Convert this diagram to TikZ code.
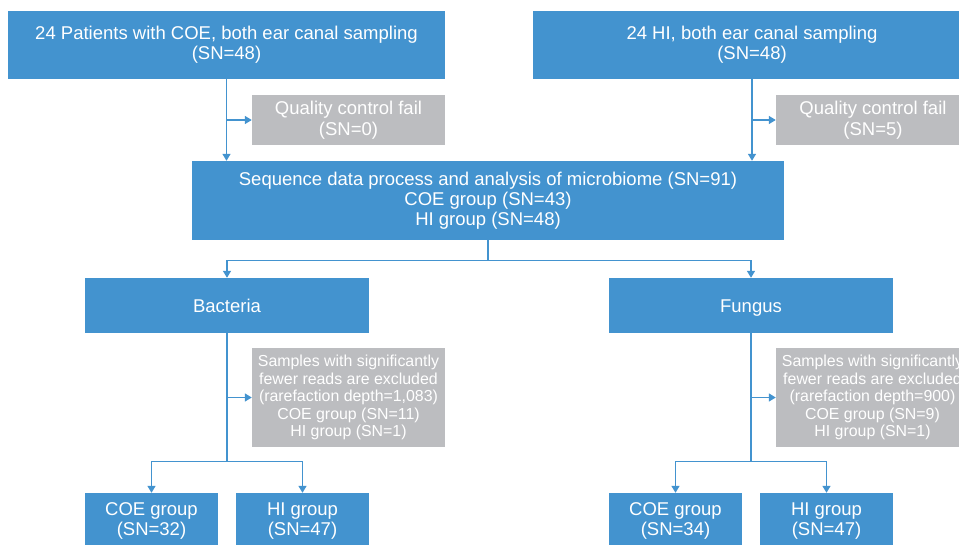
\documentclass[tikz,border=0pt]{standalone}
\usepackage{fontspec}
\setmainfont{Liberation Sans}
\usepackage{tikz}
\usetikzlibrary{arrows.meta,positioning}
\usepackage{xcolor}
\definecolor{flowblue}{HTML}{4393CF}
\definecolor{dropgrey}{HTML}{BCBDC0}
\tikzset{
  >={Triangle[length=7pt,width=8pt]},
  bluebox/.style={fill=flowblue,text=white,inner sep=0pt,align=center,
                  font=\fontsize{18.5}{20}\selectfont},
  kingdombox/.style={bluebox,minimum width=284pt,minimum height=55pt,
                     text height=14pt,text depth=0pt},
  greybox/.style={fill=dropgrey,text=white,inner sep=0pt,align=center,
                  font=\fontsize{18.5}{20.5}\selectfont},
  greysmall/.style={greybox,font=\fontsize{15.9}{17.5}\selectfont},
  arrow/.style={->,line width=1.4pt,draw=flowblue}
}

\begin{document}
\begin{tikzpicture}[x=1pt,y=-1pt,line cap=butt,line join=miter]
  \useasboundingbox (0,0) rectangle (959,544);

  % Sampling
  \node[bluebox,minimum width=437pt,minimum height=68pt] (coe) at (226.5,45)
    {24 Patients with COE, both ear canal sampling\\(SN=48)};
  \node[bluebox,minimum width=438pt,minimum height=68pt] (hi) at (752,45)
    {24 HI, both ear canal sampling\\(SN=48)};
  \node[greybox,minimum width=193pt,minimum height=50pt] (qcA) at (348.5,120)
    {Quality control fail\\(SN=0)};
  \node[greybox,minimum width=194pt,minimum height=50pt] (qcB) at (873,120)
    {Quality control fail\\(SN=5)};

  % Sequencing
  \node[bluebox,minimum width=592pt,minimum height=79pt] (seq) at (488,200.5)
    {Sequence data process and analysis of microbiome (SN=91)\\
     COE group (SN=43)\\HI group (SN=48)};
  \node[kingdombox] (bac) at (227,305.5) {Bacteria};
  \node[kingdombox] (fun) at (751,305.5) {Fungus};

  % Rarefaction
  \node[greysmall,minimum width=193pt,minimum height=99pt] (exA) at (348.5,397.5)
    {Samples with significantly\\fewer reads are excluded\\
     (rarefaction depth=1,083)\\COE group (SN=11)\\HI group (SN=1)};
  \node[greysmall,minimum width=193pt,minimum height=99pt] (exB) at (872.5,397.5)
    {Samples with significantly\\fewer reads are excluded\\
     (rarefaction depth=900)\\COE group (SN=9)\\HI group (SN=1)};

  % Final groups
  \node[bluebox,minimum width=133pt,minimum height=56pt] (coeA) at (151.5,521)
    {COE group\\(SN=32)};
  \node[bluebox,minimum width=133pt,minimum height=56pt] (hiA) at (302.5,521)
    {HI group\\(SN=47)};
  \node[bluebox,minimum width=133pt,minimum height=56pt] (coeB) at (675.5,521)
    {COE group\\(SN=34)};
  \node[bluebox,minimum width=133pt,minimum height=56pt] (hiB) at (826.5,521)
    {HI group\\(SN=47)};

  % Connectors
  \draw[arrow] (coe.south) -- (coe.south |- seq.north);
  \draw[arrow] (coe.south |- qcA.west) -- (qcA.west);
  \draw[arrow] (hi.south) -- (hi.south |- seq.north);
  \draw[arrow] (hi.south |- qcB.west) -- (qcB.west);

  \draw[arrow] (seq.south) -- ++(0,20) -| (bac.north);
  \draw[arrow] (seq.south) -- ++(0,20) -| (fun.north);

  \draw[arrow] (bac.south) -- ++(0,128) -| (coeA.north);
  \draw[arrow] (bac.south) -- ++(0,128) -| (hiA.north);
  \draw[arrow] (bac.south |- exA.west) -- (exA.west);
  \draw[arrow] (fun.south) -- ++(0,128) -| (coeB.north);
  \draw[arrow] (fun.south) -- ++(0,128) -| (hiB.north);
  \draw[arrow] (fun.south |- exB.west) -- (exB.west);
\end{tikzpicture}
\end{document}
